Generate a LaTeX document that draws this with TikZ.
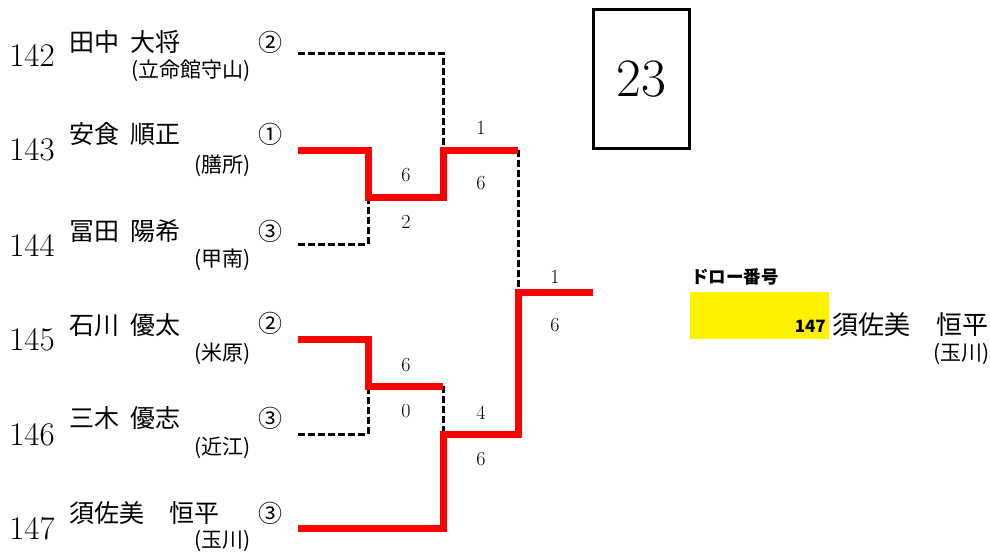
\documentclass[tikz,border=0pt]{standalone}
\usepackage{fontspec}
\newfontfamily\jp{Noto Sans CJK JP}
\usetikzlibrary{positioning}

\newcommand{\fs}[1]{\fontsize{#1}{#1}\selectfont}
\newcommand{\gap}{\hspace{0.45em}}

\begin{document}
\begin{tikzpicture}[x=1pt,y=-1pt,
    seed/.style={inner sep=0pt,font=\fs{33}},
    entrant/.style={inner sep=0pt,anchor=west,font=\jp\fs{25}},
    rank/.style={inner sep=0pt,font=\jp\fs{24}},
    team/.style={inner sep=0pt,anchor=east,font=\jp\fs{21}},
    score/.style={inner sep=0pt,font=\fs{20}},
    win/.style={red,line width=7pt},
    lose/.style={black,line width=3pt,dash pattern=on 7pt off 3pt}]
  \useasboundingbox (0,0) rectangle (990,557);

  % entrants
  \node[seed] (n142) at (32,55) {142};
  \node[entrant] (s142) at (69,42) {田中\gap 大将};
  \node[rank] (c142) at (270,42) {②};
  \node[team] (t142) at (251,71) {(立命館守山)};

  \node[seed] (n143) at (32,150) {143};
  \node[entrant] (s143) at (69,134) {安食\gap 順正};
  \node[rank] (c143) at (270,134) {①};
  \node[team] (t143) at (251,166) {(膳所)};

  \node[seed] (n144) at (32,245) {144};
  \node[entrant] (s144) at (69,231) {冨田\gap 陽希};
  \node[rank] (c144) at (270,231) {③};
  \node[team] (t144) at (251,260) {(甲南)};

  \node[seed] (n145) at (32,340) {145};
  \node[entrant] (s145) at (69,325) {石川\gap 優太};
  \node[rank] (c145) at (270,323) {②};
  \node[team] (t145) at (251,354) {(米原)};

  \node[seed] (n146) at (32,435) {146};
  \node[entrant] (s146) at (69,418) {三木\gap 優志};
  \node[rank] (c146) at (270,418) {③};
  \node[team] (t146) at (251,448) {(近江)};

  \node[seed] (n147) at (32,529) {147};
  \node[entrant] (s147) at (69,513) {須佐美　恒平};
  \node[rank] (c147) at (270,513) {③};
  \node[team] (t147) at (251,541) {(玉川)};

  % bracket
  \coordinate (p142) at (298,53);
  \coordinate (p143) at (298,150);
  \coordinate (p144) at (298,244);
  \coordinate (p145) at (298,339);
  \coordinate (p146) at (298,434);
  \coordinate (p147) at (298,528);
  \coordinate (a1) at (368,197);
  \coordinate (a2) at (368,386);
  \coordinate (a2e) at (443,386);
  \coordinate (b1) at (443,150);
  \coordinate (b2) at (443,434);
  \coordinate (c1) at (518,150);
  \coordinate (c2) at (518,434);
  \coordinate (f) at (518,292);
  \coordinate (e) at (593,292);

  \draw[lose] (p142) -| (b1);
  \draw[lose] (p144) -| (a1);
  \draw[lose] (p146) -| (a2);
  \draw[lose] (a2e) -- (b2);
  \draw[lose] (c1) -- (f);
  \draw[win] (p143) -| (a1) -| (b1) -- (c1);
  \draw[win] (p145) -| (a2) -- (a2e);
  \draw[win] (p147) -| (b2) -- (c2) -- (f) -- (e);

  % scores
  \node[score] (r1a) at (406,175) {6};
  \node[score] (r1b) at (406,222) {2};
  \node[score] (r2a) at (406,365) {6};
  \node[score] (r2b) at (406,411) {0};
  \node[score] (r3a) at (481,128) {1};
  \node[score] (r3b) at (481,183) {6};
  \node[score] (r4a) at (481,413) {4};
  \node[score] (r4b) at (481,459) {6};
  \node[score] (r5a) at (555,277) {1};
  \node[score] (r5b) at (555,325) {6};

  % block number
  \node[draw,line width=3pt,minimum width=96pt,minimum height=139pt,
        font=\fs{54}] (blk) at (641,79) {23};

  % result
  \fill[yellow] (690,292) rectangle (829,339);
  \node[inner sep=0pt,anchor=west,font=\jp\bfseries\fs{17.5}] (draw) at (691,277) {ドロー番号};
  \node[inner sep=0pt,anchor=east,font=\jp\bfseries\fs{17}] (wn) at (826,326) {147};
  \node[inner sep=0pt,anchor=west,font=\jp\fs{26}] (wname) at (832,325) {須佐美　恒平};
  \node[inner sep=0pt,anchor=east,font=\jp\fs{21}] (wteam) at (990,354) {(玉川)};
\end{tikzpicture}
\end{document}
